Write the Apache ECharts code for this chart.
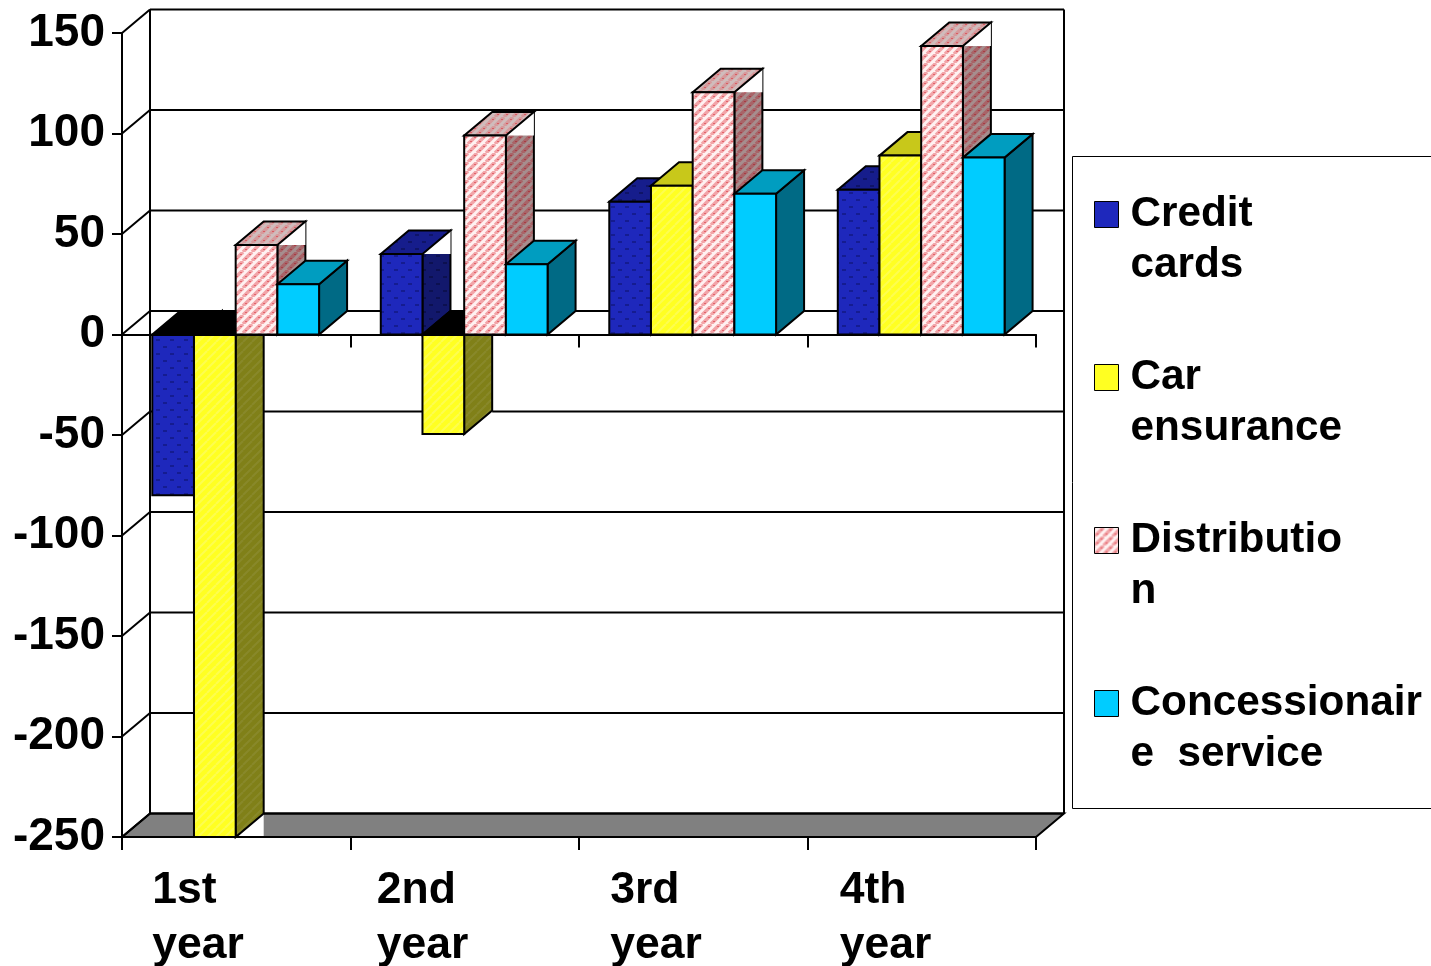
<!DOCTYPE html>
<html>
<head>
<meta charset="utf-8">
<style>html,body{margin:0;padding:0;background:#fff}#chart{width:1431px;height:966px}</style>
<script src="https://cdn.jsdelivr.net/npm/echarts@6/dist/echarts.min.js"></script>
</head>
<body>
<div id="chart"></div>
<script>
// Yearly results by business line, drawn as extruded columns.
const categories = ['1st\nyear', '2nd\nyear', '3rd\nyear', '4th\nyear'];
const yTicks = [150, 100, 50, 0, -50, -100, -150, -200, -250];
const creditCards = [-80, 40, 66, 72];
const carEnsurance = [-250, -49.5, 74, 89];
const distribution = [44.5, 99, 120.5, 143.5];
const concessionaireService = [25, 35, 70, 88];

// Oblique projection of the box depth, in pixels.
const DX = 28, DY = 23.5;
const FONT = '"Liberation Sans", Arial, sans-serif';

function tile(size, paint) {
  const c = document.createElement('canvas');
  c.width = c.height = size;
  paint(c.getContext('2d'), size);
  return { image: c, repeat: 'repeat' };
}
function stripes(base, ink, width) {
  return tile(9, (g, s) => {
    g.fillStyle = base; g.fillRect(0, 0, s, s);
    g.strokeStyle = ink; g.lineWidth = width;
    for (let k = -s; k <= 2 * s; k += s) {
      g.beginPath(); g.moveTo(k, s); g.lineTo(k + s, 0); g.stroke();
    }
  });
}
// Diagonal bands with darker flecks along them, for the woven look of the pink faces.
function weave(base, ink, fleck) {
  return tile(9, (g, s) => {
    g.fillStyle = base; g.fillRect(0, 0, s, s);
    g.strokeStyle = ink; g.lineWidth = 3.5;
    for (let k = -s; k <= 2 * s; k += s) {
      g.beginPath(); g.moveTo(k, s); g.lineTo(k + s, 0); g.stroke();
    }
    g.fillStyle = fleck;
    g.fillRect(2, 6, 2, 1); g.fillRect(6, 2, 2, 1);
  });
}
function dots(base, ink) {
  return tile(14, (g, s) => {
    g.fillStyle = base; g.fillRect(0, 0, s, s);
    g.fillStyle = ink;
    g.fillRect(2, 3, 4, 2); g.fillRect(9, 10, 4, 2);
  });
}

const skins = [
  { front: dots('#1e28bc', '#151c90'), top: dots('#161d8c', '#0f1468'), side: dots('#12186c', '#0c1050'), cut: true },
  { front: stripes('#ffff22', '#fdfd50', 2), top: '#c8c81a', side: stripes('#808018', '#88882a', 2), cut: true },
  { front: weave('#fff2f2', '#f2a4a8', '#e2626a'), top: weave('#d0bcbc', '#d69a9c', '#d85c62'), side: weave('#a68e8e', '#a86468', '#a83c44'), cut: true },
  { front: '#00ccff', top: '#009dc0', side: '#006a85', cut: false }
];
const legendFill = ['#1e28bc', '#ffff22', weave('#fff2f2', '#f2a4a8', '#e2626a'), '#00ccff'];

const names = ['Credit\ncards', 'Car\nensurance', 'Distributio\nn', 'Concessionair\ne  service'];
const values = [creditCards, carEnsurance, distribution, concessionaireService];

const edge = { stroke: '#000', lineWidth: 2 };
function poly(points, fill) {
  return { type: 'polygon', shape: { points }, style: Object.assign({ fill }, edge) };
}

function barRenderer(seriesIndex) {
  const skin = skins[seriesIndex];
  return function (params, api) {
    const cat = api.value(0), val = api.value(1);
    const band = api.size([1, 0])[0];
    const w = band * 0.1825;
    const l = api.coord([cat, 0])[0] - band / 2 + band * 0.1325 + seriesIndex * w;
    const r = l + w;
    const y0 = api.coord([cat, 0])[1];
    const yv = api.coord([cat, val])[1];
    const kids = [];
    if (val >= 0) {
      kids.push(poly([[r, yv], [r + DX, yv - DY], [r + DX, y0 - DY], [r, y0]], skin.side));
      if (skin.cut) {
        kids.push({ type: 'polygon', shape: { points: [[r, yv], [r + DX, yv - DY], [r + DX, yv]] }, style: { fill: '#fff' } });
      }
      kids.push(poly([[l, yv], [l + DX, yv - DY], [r + DX, yv - DY], [r, yv]], skin.top));
    } else {
      kids.push(poly([[l, y0], [l + DX, y0 - DY], [r + DX, y0 - DY], [r, y0]], '#000'));
      kids.push({ type: 'polygon', shape: { points: [[r, yv], [r + DX, yv - DY], [r + DX, yv]] }, style: { fill: '#fff' } });
      kids.push(poly([[r, y0], [r + DX, y0 - DY], [r + DX, yv - DY], [r, yv]], skin.side));
    }
    kids.push(poly([[l, Math.min(y0, yv)], [r, Math.min(y0, yv)], [r, Math.max(y0, yv)], [l, Math.max(y0, yv)]], skin.front));
    return { type: 'group', children: kids };
  };
}

// Back wall, side wall and floor behind the columns.
function wallRenderer(params, api) {
  const g = params.coordSys;
  const y = api.coord([0, api.value(1)])[1];
  const line = { stroke: '#000', lineWidth: 2, fill: null };
  const kids = [
    { type: 'line', shape: { x1: g.x + DX, y1: y - DY, x2: g.x + g.width + DX, y2: y - DY }, style: line },
    { type: 'line', shape: { x1: g.x, y1: y, x2: g.x + DX, y2: y - DY }, style: line }
  ];
  if (api.value(1) === yTicks[yTicks.length - 1]) {
    const b = y, t = y - DY, x = g.x, e = g.x + g.width;
    kids.unshift({ type: 'polygon', shape: { points: [[x, b], [x + DX, t], [e + DX, t], [e, b]] }, style: { fill: '#808080', stroke: '#000', lineWidth: 2 } });
  }
  if (params.dataIndex === 0) {
    const t = y - DY, b = g.y + g.height - DY;
    kids.push({ type: 'line', shape: { x1: g.x + DX, y1: t, x2: g.x + DX, y2: b }, style: line });
    kids.push({ type: 'line', shape: { x1: g.x + g.width + DX, y1: t, x2: g.x + g.width + DX, y2: b }, style: line });
  }
  return { type: 'group', children: kids };
}

const labelWidths = [168, 176, 166, 164];
const richLabels = {};
labelWidths.forEach((w, i) => {
  richLabels['c' + i] = { width: w, align: 'left', fontFamily: FONT, fontWeight: 'bold', fontSize: 44.5, lineHeight: 55, color: '#000' };
});

const axisLineStyle = { color: '#000', width: 2 };
const xTick = { show: true, interval: 0, length: 13, lineStyle: axisLineStyle };
const chart = echarts.init(document.getElementById('chart'), null, { renderer: 'canvas' });
chart.setOption({
  animation: false,
  backgroundColor: '#fff',
  grid: { left: 122, top: 33, width: 914, height: 804, containLabel: false, outerBoundsMode: 'none' },
  graphic: [{
    type: 'rect', z: 0, silent: true,
    shape: { x: 1072.5, y: 156.5, width: 420, height: 652 },
    style: { fill: '#fff', stroke: '#000', lineWidth: 1 }
  }],
  legend: {
    orient: 'vertical', left: 1094, top: 142.5, padding: 0,
    itemWidth: 24, itemHeight: 26, itemGap: 19, icon: 'rect',
    selectedMode: false, align: 'left',
    // A blank first line keeps the swatch level with the first line of each wrapped name.
    formatter: name => ['{t|\u00a0}'].concat(name.split('\n').map(p => '{t|' + p + '}')).join('\n'),
    textStyle: {
      rich: { t: { fontFamily: FONT, fontWeight: 'bold', fontSize: 42.3, lineHeight: 51, color: '#000', padding: [0, 0, 0, 7] } }
    },
    data: names.map((name, i) => ({ name, itemStyle: { color: legendFill[i], borderColor: '#000', borderWidth: 1 } }))
  },
  xAxis: [
    {
      type: 'category', data: categories, position: 'bottom', z: 6,
      axisLine: { onZero: false, lineStyle: axisLineStyle },
      axisTick: xTick,
      axisLabel: {
        margin: 26, interval: 0, align: 'center',
        formatter: (v, i) => v.split('\n').map(p => '{c' + i + '|' + p + '}').join('\n'),
        rich: richLabels
      }
    },
    {
      type: 'category', data: categories, position: 'bottom', z: 6,
      axisLine: { onZero: true, lineStyle: axisLineStyle },
      axisTick: xTick,
      axisLabel: { show: false }
    }
  ],
  yAxis: {
    type: 'value', min: -250, max: 150, interval: 50, z: 6,
    axisLine: { show: true, onZero: false, lineStyle: axisLineStyle },
    axisTick: { show: true, length: 10, lineStyle: axisLineStyle },
    splitLine: { show: false },
    axisLabel: { margin: 17, fontFamily: FONT, fontWeight: 'bold', fontSize: 46, color: '#000' }
  },
  series: [
    {
      type: 'custom', name: 'walls', z: 1, silent: true, clip: false,
      renderItem: wallRenderer, encode: { x: 0, y: 1 },
      data: yTicks.map(t => [0, t])
    }
  ].concat(names.map((name, s) => ({
    type: 'custom', name, z: 3, silent: true, clip: false,
    itemStyle: { color: legendFill[s] },
    renderItem: barRenderer(s), encode: { x: 0, y: 1 },
    data: values[s].map((v, i) => [i, v])
  })))
});
</script>
</body>
</html>
